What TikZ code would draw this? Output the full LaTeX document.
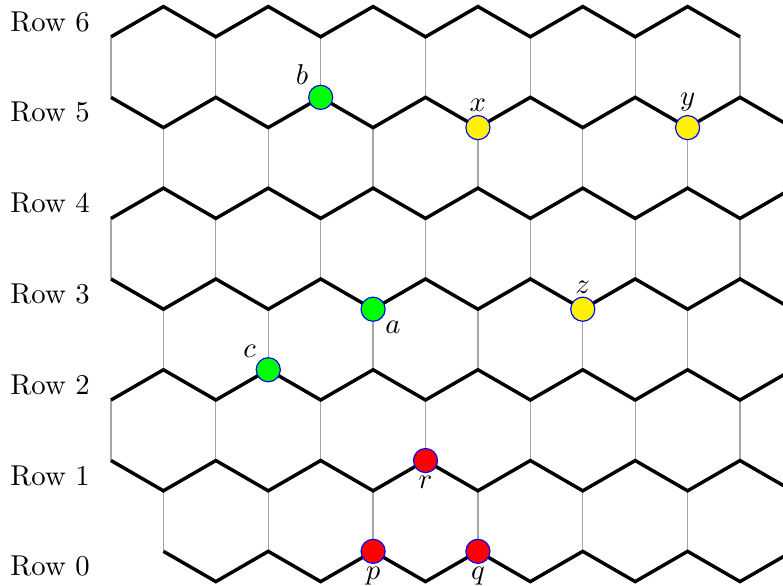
\documentclass[tikz,border=0pt]{standalone}
\usepackage{tikz}
\usetikzlibrary{positioning,calc}

\begin{document}
\begin{tikzpicture}[x=18.26pt, y=31.63pt,
  zig/.style={line width=1.2pt, draw=black},
  rung/.style={line width=0.45pt, draw=gray!70},
  dot/.style={circle, fill=#1, draw=blue, line width=0.4pt, inner sep=0pt, minimum size=8.4pt},
  lab/.style={inner sep=1pt},
  declare function={vy(\cc,\rr)=\rr+(2*mod(\cc+\rr,2)-1)/6;}]

\useasboundingbox (-2.118,-0.2148) rectangle (12.82,6.239);
\clip (-2.118,-0.2148) rectangle (12.82,6.239);

% ===== VERTICAL RUNGS =====
\foreach \k/\s/\t in {0/1/3,1/0/2,2/1/3,3/0/2,4/1/3,5/0/2}
  \foreach \i in {\s,\t,...,14}
    \draw[rung] (\i,{\k+1/6}) -- (\i,{\k+5/6});

% ===== ZIGZAG ROWS =====
\foreach \k/\first/\last in {0/1/14,1/0/14,2/0/14,3/0/14,4/0/14,5/0/14,6/0/12}
  \draw[zig] (\first,{vy(\first,\k)}) \foreach \i in {\first,...,\last} {-- (\i,{vy(\i,\k)})};

% ===== ROW LABELS =====
\foreach \k in {0,...,6}
  \node (row\k) at (-1.164,\k) {Row \k};

% ===== MARKED VERTICES =====
\node[dot=green, label={[lab]above left:$b$}] (nb) at (4,{vy(4,5)}) {};
\node[dot=yellow, label={[lab]above:$x$}] (nx) at (7,{vy(7,5)}) {};
\node[dot=yellow, label={[lab]above:$y$}] (ny) at (11,{vy(11,5)}) {};
\node[dot=green, label={[lab]below right:$a$}] (na) at (5,{vy(5,3)}) {};
\node[dot=yellow, label={[lab]above:$z$}] (nz) at (9,{vy(9,3)}) {};
\node[dot=green, label={[lab]above left:$c$}] (nc) at (3,{vy(3,2)}) {};
\node[dot=red, label={[lab]below:$r$}] (nr) at (6,{vy(6,1)}) {};
\node[dot=red, label={[lab]below:$p$}] (np) at (5,{vy(5,0)}) {};
\node[dot=red, label={[lab]below:$q$}] (nq) at (7,{vy(7,0)}) {};

\end{tikzpicture}
\end{document}
